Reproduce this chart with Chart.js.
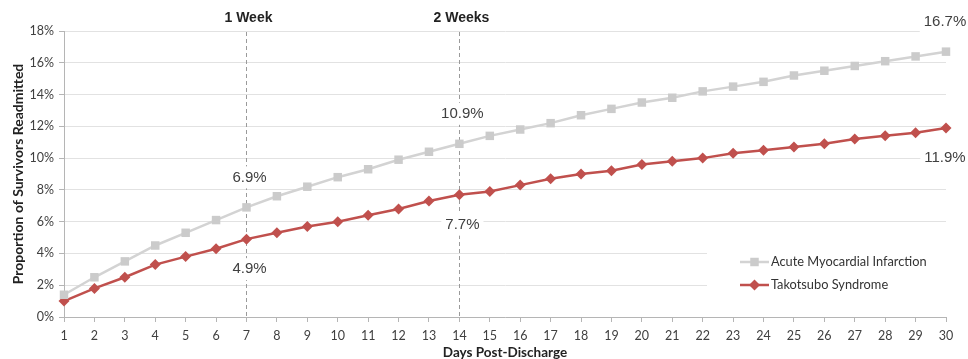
<!DOCTYPE html>
<html>
<head>
<meta charset="utf-8">
<script src="https://cdn.jsdelivr.net/npm/chart.js@4/dist/chart.umd.min.js"></script>
<style>
    html, body { margin: 0; padding: 0; background: #fff; }
    #wrap { width: 968px; height: 359px; }
</style>
</head>
<body>
<div id="wrap"><canvas id="chart" width="968" height="359"></canvas></div>
<script>
// Readmission curves (percent of survivors readmitted)
const days = ['1','2','3','4','5','6','7','8','9','10','11','12','13','14','15',
    '16','17','18','19','20','21','22','23','24','25','26','27','28','29','30'];
const amiValues = [1.4, 2.5, 3.5, 4.5, 5.3, 6.1, 6.9, 7.6, 8.2, 8.8, 9.3, 9.9, 10.4, 10.9, 11.4,
    11.8, 12.2, 12.7, 13.1, 13.5, 13.8, 14.2, 14.5, 14.8, 15.2, 15.5, 15.8, 16.1, 16.4, 16.7];
const takoValues = [1.0, 1.8, 2.5, 3.3, 3.8, 4.3, 4.9, 5.3, 5.7, 6.0, 6.4, 6.8, 7.3, 7.7, 7.9,
    8.3, 8.7, 9.0, 9.2, 9.6, 9.8, 10.0, 10.3, 10.5, 10.7, 10.9, 11.2, 11.4, 11.6, 11.9];
const seriesNames = ['Acute Myocardial Infarction', 'Takotsubo Syndrome'];
const yTicks = [0, 2, 4, 6, 8, 10, 12, 14, 16, 18];

// Week markers and value callouts
const weekMarks = [
    { day: '7', text: '1 Week' },
    { day: '14', text: '2 Weeks' }
];
const callouts = [
    { series: 0, day: 7 },
    { series: 1, day: 7 },
    { series: 0, day: 14 },
    { series: 1, day: 14 },
    { series: 0, day: 30 },
    { series: 1, day: 30 }
];

const GRAY = '#cbcbcb';
const RED = '#c0504d';
const TEXT = '#404040';
const CAL = 'Lato, "Open Sans", sans-serif';

// White box behind a text, then the text
function boxedText(ctx, text, x, y, font, color, padX, padY) {
    ctx.save();
    ctx.font = font;
    const w = ctx.measureText(text).width;
    ctx.fillStyle = '#fff';
    ctx.fillRect(x - w / 2 - padX, y - padY, w + padX * 2, padY * 2);
    ctx.fillStyle = color;
    ctx.textAlign = 'center';
    ctx.textBaseline = 'middle';
    ctx.fillText(text, x, y);
    ctx.restore();
}

// Dashed week lines behind the data
const weekLines = {
    id: 'weekLines',
    beforeDatasetsDraw(chart) {
        const { ctx, chartArea, scales } = chart;
        ctx.save();
        ctx.strokeStyle = '#9a9a9a';
        ctx.lineWidth = 1;
        ctx.setLineDash([4, 3]);
        weekMarks.forEach(m => {
            const x = Math.round(scales.x.getPixelForValue(days.indexOf(m.day))) + 0.5;
            ctx.beginPath();
            ctx.moveTo(x, chartArea.top + 1);
            ctx.lineTo(x, chartArea.bottom);
            ctx.stroke();
        });
        ctx.restore();
    }
};

// Labels and in-plot legend
const overlays = {
    id: 'overlays',
    afterDraw(chart) {
        const { ctx, chartArea, scales } = chart;

        weekMarks.forEach(m => {
            const x = scales.x.getPixelForValue(days.indexOf(m.day));
            boxedText(ctx, m.text, x + 2, chartArea.top - 13, 'bold 14px "Liberation Sans", Arial, sans-serif', '#222', 7, 13);
        });

        callouts.forEach(c => {
            const data = c.series === 0 ? amiValues : takoValues;
            const i = c.day - 1;
            const v = data[i];
            let x = scales.x.getPixelForValue(i);
            let y = scales.y.getPixelForValue(v);
            y += c.series === 0 ? -30 : 30;
            if (c.day === 30) x -= 1;
            else x += 3;
            boxedText(ctx, v.toFixed(1) + '%', x, y, '15px "Liberation Sans", Arial, sans-serif', TEXT, 4, 11);
        });

        // legend
        const lx = 707, ly = 241;
        ctx.save();
        ctx.fillStyle = '#fff';
        ctx.fillRect(lx, ly, chartArea.right - lx + 2, 58);
        ctx.font = '12.8px ' + CAL;
        ctx.textBaseline = 'middle';
        chart.data.datasets.forEach((ds, k) => {
            const y = ly + 21 + k * 23;
            ctx.strokeStyle = ds.borderColor;
            ctx.lineWidth = ds.borderWidth;
            ctx.beginPath();
            ctx.moveTo(740, y);
            ctx.lineTo(769, y);
            ctx.stroke();
            ctx.fillStyle = ds.pointBackgroundColor;
            Chart.helpers.drawPoint(ctx, {
                pointStyle: ds.pointStyle,
                radius: ds.pointRadius,
                rotation: 0,
                borderWidth: 0
            }, 754.5, y);
            ctx.fillStyle = '#333';
            ctx.fillText(ds.label, 771, y);
        });
        ctx.restore();
    }
};

const ctx = document.getElementById('chart').getContext('2d');
new Chart(ctx, {
    type: 'line',
    data: {
        labels: days,
        datasets: [
            {
                label: seriesNames[0],
                data: amiValues,
                borderColor: '#d3d3d3',
                backgroundColor: GRAY,
                pointBackgroundColor: GRAY,
                pointBorderWidth: 0,
                borderWidth: 2.5,
                pointStyle: 'rect',
                pointRadius: 6,
                tension: 0,
                clip: false
            },
            {
                label: seriesNames[1],
                data: takoValues,
                borderColor: RED,
                backgroundColor: RED,
                pointBackgroundColor: RED,
                pointBorderWidth: 0,
                borderWidth: 2.5,
                pointStyle: 'rectRot',
                pointRadius: 5.5,
                tension: 0,
                clip: false
            }
        ]
    },
    options: {
        responsive: false,
        animation: false,
        events: [],
        layout: { padding: { top: 31, right: 22, left: 0, bottom: 0 } },
        plugins: {
            legend: { display: false },
            tooltip: { enabled: false }
        },
        scales: {
            x: {
                offset: false,
                afterFit: s => { s.height = 42; },
                grid: {
                    drawOnChartArea: false,
                    drawTicks: true,
                    tickLength: 5,
                    tickColor: '#b5b5b5'
                },
                border: { color: '#b5b5b5', width: 1 },
                ticks: {
                    color: TEXT,
                    padding: 6,
                    maxRotation: 0,
                    autoSkip: false,
                    font: { family: CAL, size: 12.5 }
                },
                title: {
                    display: true,
                    text: 'Days Post-Discharge',
                    color: '#222',
                    padding: { top: 0, bottom: 0 },
                    font: { family: CAL, size: 13.5, weight: 'bold', lineHeight: 1 }
                }
            },
            y: {
                min: 0,
                max: 18,
                afterFit: s => { s.width = 64; },
                afterBuildTicks: s => { s.ticks = yTicks.map(v => ({ value: v })); },
                grid: {
                    color: '#e2e2e2',
                    tickLength: 5,
                    tickColor: '#b5b5b5'
                },
                border: { color: '#b5b5b5', width: 1 },
                ticks: {
                    color: TEXT,
                    padding: 5,
                    callback: v => v + '%',
                    font: { family: CAL, size: 12.5 }
                },
                title: {
                    display: true,
                    text: 'Proportion of Survivors Readmitted',
                    color: '#222',
                    padding: { top: 11, bottom: 0 },
                    font: { family: CAL, size: 14, weight: 'bold', lineHeight: 1 }
                }
            }
        }
    },
    plugins: [weekLines, overlays]
});
</script>
</body>
</html>
